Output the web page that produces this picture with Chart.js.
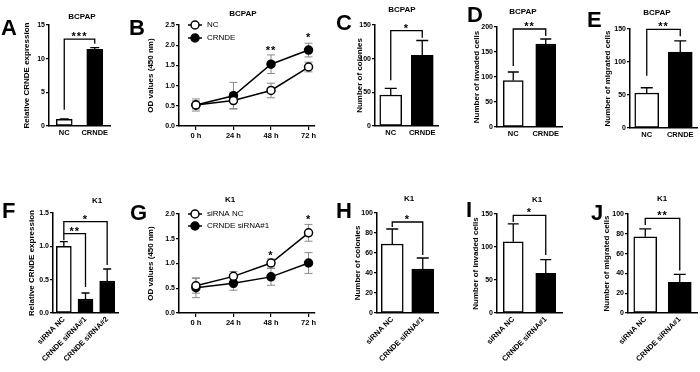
<!DOCTYPE html>
<html>
<head>
<meta charset="utf-8">
<script src="https://cdn.jsdelivr.net/npm/chart.js@4.4.1/dist/chart.umd.min.js"></script>
<style>
  body { margin: 0; background: #fff; }
  #fig { position: relative; width: 700px; height: 372px; overflow: hidden; }
  #fig canvas { position: absolute; }
</style>
</head>
<body>
<div id="fig"></div>
<script>
// ---------- data ----------
const bcpapGroups = ['NC', 'CRNDE'];
const k1Groups = ['siRNA NC', 'CRNDE siRNA#1'];
const k1ExprGroups = ['siRNA NC', 'CRNDE siRNA#1', 'CRNDE siRNA#2'];
const timeLabels = ['0 h', '24 h', '48 h', '72 h'];
const timeHours = [0, 24, 48, 72];

// A - relative CRNDE expression, BCPAP
const exprBcpap = [1.0, 11.4];
const exprBcpapErr = [0.05, 0.25];
// B - OD values, BCPAP
const odBcpapNC = [0.52, 0.63, 0.88, 1.46];
const odBcpapNCErr = [0.15, 0.2, 0.18, 0.12];
const odBcpapCRNDE = [0.52, 0.75, 1.53, 1.88];
const odBcpapCRNDEErr = [0.1, 0.33, 0.23, 0.17];
// C - colonies, BCPAP
const colBcpap = [46, 105];
const colBcpapErr = [10, 22];
// D - invaded cells, BCPAP
const invBcpap = [93, 166];
const invBcpapErr = [17, 10];
// E - migrated cells, BCPAP
const migBcpap = [53, 115];
const migBcpapErr = [8, 17];
// F - relative CRNDE expression, K1
const exprK1 = [1.0, 0.21, 0.48];
const exprK1Err = [0.07, 0.09, 0.18];
// G - OD values, K1
const odK1NC = [0.55, 0.74, 1.01, 1.62];
const odK1NCErr = [0.15, 0.1, 0.08, 0.17];
const odK1Si = [0.51, 0.60, 0.73, 1.01];
const odK1SiErr = [0.2, 0.14, 0.17, 0.21];
// H - colonies, K1
const colK1 = [69, 44];
const colK1Err = [15, 11];
// I - invaded cells, K1
const invK1 = [108, 60];
const invK1Err = [27, 21];
// J - migrated cells, K1
const migK1 = [77, 31];
const migK1Err = [8, 8];

// significance brackets (values in data units)
const sigA = [{ from: 0, to: 1, y: 12.9, left: 2.4, right: 12.2, text: '***' }];
const sigC = [{ from: 0, to: 1, y: 141.6, left: 68, right: 131, text: '*' }];
const sigD = [{ from: 0, to: 1, y: 196, left: 122, right: 182, text: '**' }];
const sigE = [{ from: 0, to: 1, y: 149.5, left: 79, right: 139, text: '**' }];
const sigF = [
  { from: 0, to: 1, y: 1.19, left: 1.09, right: 0.39, text: '**' },
  { from: 0, to: 2, y: 1.37, left: 1.19, right: 0.72, text: '*' }
];
const sigH = [{ from: 0, to: 1, y: 91, left: 86, right: 58, text: '*' }];
const sigI = [{ from: 0, to: 1, y: 148, left: 138, right: 88, text: '*' }];
const sigJ = [{ from: 0, to: 1, y: 95.5, left: 89, right: 43, text: '**' }];
const starsB = [{ x: 48, y: 1.93, text: '**' }, { x: 72, y: 2.25, text: '*' }];
const starsG = [{ x: 48, y: 1.21, text: '*' }, { x: 72, y: 1.94, text: '*' }];

// ---------- setup ----------
const FONT = "'Liberation Sans', Arial, sans-serif";
Chart.defaults.font.family = FONT;
Chart.defaults.color = '#000';
Chart.defaults.animation = false;

const fig = document.getElementById('fig');

function addCanvas(box) {
  const c = document.createElement('canvas');
  c.width = box.w;
  c.height = box.h;
  c.style.left = box.left + 'px';
  c.style.top = box.top + 'px';
  c.style.width = box.w + 'px';
  c.style.height = box.h + 'px';
  fig.appendChild(c);
  return c;
}

// error bars, brackets, stars, titles, legends
const figPlugin = {
  id: 'fig',
  beforeDatasetsDraw(chart, args, o) {
    if (o.kind !== 'line') return;
    const ctx = chart.ctx, xs = chart.scales.x, ys = chart.scales.y;
    ctx.save();
    ctx.strokeStyle = '#8a8a8a';
    ctx.lineWidth = 1;
    chart.data.datasets.forEach((ds, i) => {
      const err = o.errors[i];
      ds.data.forEach((p, j) => {
        const x = xs.getPixelForValue(p.x);
        const y1 = ys.getPixelForValue(p.y + err[j]);
        const y2 = ys.getPixelForValue(p.y - err[j]);
        ctx.beginPath();
        ctx.moveTo(x, y1); ctx.lineTo(x, y2);
        ctx.moveTo(x - 4, y1); ctx.lineTo(x + 4, y1);
        ctx.moveTo(x - 4, y2); ctx.lineTo(x + 4, y2);
        ctx.stroke();
      });
    });
    ctx.restore();
  },
  afterDatasetsDraw(chart, args, o) {
    const ctx = chart.ctx, xs = chart.scales.x, ys = chart.scales.y;
    const ox = o.box.left, oy = o.box.top;
    ctx.save();
    ctx.strokeStyle = '#000';
    ctx.fillStyle = '#000';
    ctx.textAlign = 'center';
    if ('letterSpacing' in ctx) ctx.letterSpacing = '1px';

    if (o.kind === 'bar') {
      const meta = chart.getDatasetMeta(0);
      const vals = chart.data.datasets[0].data;
      ctx.lineWidth = 1.3;
      meta.data.forEach((bar, j) => {
        const top = ys.getPixelForValue(vals[j] + o.errors[j]);
        ctx.beginPath();
        ctx.moveTo(bar.x, bar.y); ctx.lineTo(bar.x, top);
        ctx.moveTo(bar.x - o.cap / 2, top); ctx.lineTo(bar.x + o.cap / 2, top);
        ctx.stroke();
      });
      ctx.font = 'bold 11px ' + FONT;
      ctx.textBaseline = 'alphabetic';
      (o.brackets || []).forEach(b => {
        const xa = meta.data[b.from].x, xb = meta.data[b.to].x;
        const yy = ys.getPixelForValue(b.y);
        ctx.beginPath();
        ctx.moveTo(xa, ys.getPixelForValue(b.left));
        ctx.lineTo(xa, yy);
        ctx.lineTo(xb, yy);
        ctx.lineTo(xb, ys.getPixelForValue(b.right));
        ctx.stroke();
        ctx.fillText(b.text, (xa + xb) / 2, yy + 1);
      });
    } else {
      ctx.font = 'bold 11px ' + FONT;
      ctx.textBaseline = 'alphabetic';
      (o.stars || []).forEach(s => {
        ctx.fillText(s.text, xs.getPixelForValue(s.x), ys.getPixelForValue(s.y) + 6);
      });
      if ('letterSpacing' in ctx) ctx.letterSpacing = '0px';
      ctx.textAlign = 'left';
      ctx.textBaseline = 'middle';
      ctx.font = '8px ' + FONT;
      (o.legend || []).forEach(l => {
        const x = 195 - ox, y = l.y - oy;
        ctx.lineWidth = 1.5;
        ctx.beginPath(); ctx.moveTo(x - 7, y); ctx.lineTo(x + 7, y); ctx.stroke();
        ctx.beginPath(); ctx.arc(x, y, 4, 0, Math.PI * 2);
        ctx.fillStyle = l.filled ? '#000' : '#fff';
        ctx.fill(); ctx.stroke();
        ctx.fillStyle = '#000';
        ctx.fillText(l.text, x + 12, y);
      });
    }

    if ('letterSpacing' in ctx) ctx.letterSpacing = '0px';
    ctx.textAlign = 'center';
    ctx.textBaseline = 'middle';
    ctx.font = 'bold 8px ' + FONT;
    ctx.fillText(o.title.text, o.title.x - ox, o.title.y - oy);
    ctx.textAlign = 'left';
    ctx.textBaseline = 'alphabetic';
    ctx.font = 'bold 22px ' + FONT;
    ctx.fillText(o.letter.text, o.letter.x - ox, o.letter.y - oy);
    ctx.restore();
  }
};

function yAxis(p, decimals) {
  return {
    min: 0,
    max: p.yMax,
    afterFit: s => { s.width = p.area.l - p.box.left; },
    ticks: {
      stepSize: p.yStep,
      font: { size: 7, weight: 'bold' },
      padding: 1,
      callback: v => decimals ? v.toFixed(decimals) : v
    },
    grid: { display: true, drawOnChartArea: false, drawTicks: true, tickLength: 3, color: '#000', lineWidth: 1.2 },
    border: { display: true, color: '#000', width: 1.5 },
    title: {
      display: true,
      text: p.yTitle,
      font: { size: 8, weight: 'bold' },
      padding: { top: p.yTitleX - p.box.left - 4.8, bottom: 0 }
    }
  };
}

function barChart(p) {
  const canvas = addCanvas(p.box);
  return new Chart(canvas.getContext('2d'), {
    type: 'bar',
    data: {
      labels: p.labels,
      datasets: [{
        data: p.values,
        backgroundColor: p.labels.map((l, i) => i === 0 ? '#fff' : '#000'),
        borderColor: '#000',
        borderWidth: 1.5,
        borderSkipped: false,
        barThickness: p.barWidth
      }]
    },
    options: {
      responsive: false,
      events: [],
      layout: { padding: { top: p.area.t - p.box.top, right: p.box.left + p.box.w - p.area.r, left: 0, bottom: 0 } },
      plugins: {
        legend: { display: false },
        tooltip: { enabled: false },
        fig: {
          kind: 'bar', box: p.box, errors: p.errors, cap: p.cap, brackets: p.brackets,
          title: p.title, letter: p.letter
        }
      },
      scales: {
        x: {
          offset: true,
          afterFit: s => { s.height = p.box.top + p.box.h - p.area.b; },
          ticks: {
            font: { size: 7.5, weight: 'bold' },
            padding: 2,
            autoSkip: false,
            minRotation: p.rotate ? 45 : 0,
            maxRotation: p.rotate ? 45 : 0
          },
          grid: { display: true, drawOnChartArea: false, drawTicks: false },
          border: { display: true, color: '#000', width: 1.5 }
        },
        y: yAxis(p, p.decimals)
      }
    },
    plugins: [figPlugin]
  });
}

function lineChart(p) {
  const canvas = addCanvas(p.box);
  const toPoints = arr => arr.map((v, i) => ({ x: timeHours[i], y: v }));
  return new Chart(canvas.getContext('2d'), {
    type: 'line',
    data: {
      datasets: [
        {
          label: p.names[0],
          data: toPoints(p.series[0]),
          borderColor: '#000', borderWidth: 1.5,
          pointRadius: 4, pointBorderWidth: 1.5,
          pointBackgroundColor: '#fff', pointBorderColor: '#000'
        },
        {
          label: p.names[1],
          data: toPoints(p.series[1]),
          borderColor: '#000', borderWidth: 1.5,
          pointRadius: 4, pointBorderWidth: 1.5,
          pointBackgroundColor: '#000', pointBorderColor: '#000'
        }
      ]
    },
    options: {
      responsive: false,
      events: [],
      layout: { padding: { top: p.area.t - p.box.top, right: p.box.left + p.box.w - p.area.r, left: 0, bottom: 0 } },
      plugins: {
        legend: { display: false },
        tooltip: { enabled: false },
        fig: {
          kind: 'line', box: p.box, errors: p.errors, stars: p.stars,
          legend: [
            { text: p.names[0], filled: false, y: p.legendY[0] },
            { text: p.names[1], filled: true, y: p.legendY[1] }
          ],
          title: p.title, letter: p.letter
        }
      },
      scales: {
        x: {
          type: 'linear',
          min: -10.8,
          max: 75.8,
          afterBuildTicks: s => { s.ticks = timeHours.map(v => ({ value: v })); },
          afterFit: s => { s.height = p.box.top + p.box.h - p.area.b; },
          ticks: {
            font: { size: 7.5, weight: 'bold' },
            padding: 1,
            callback: v => timeLabels[timeHours.indexOf(v)]
          },
          grid: { display: true, drawOnChartArea: false, drawTicks: true, tickLength: 4, color: '#000', lineWidth: 1.2 },
          border: { display: true, color: '#000', width: 1.5 }
        },
        y: yAxis(p, 1)
      }
    },
    plugins: [figPlugin]
  });
}

// ---------- top row: BCPAP ----------
barChart({
  box: { left: 0, top: 0, w: 122, h: 186 }, area: { l: 49, t: 25, r: 110, b: 126 },
  labels: bcpapGroups, values: exprBcpap, errors: exprBcpapErr,
  yMax: 15, yStep: 5, yTitle: 'Relative CRNDE expression', yTitleX: 27,
  barWidth: 16, cap: 9, brackets: sigA,
  title: { text: 'BCPAP', x: 82, y: 17 }, letter: { text: 'A', x: 1, y: 35 }
});
lineChart({
  box: { left: 122, top: 0, w: 198, h: 186 }, area: { l: 179, t: 25, r: 315, b: 126 },
  names: ['NC', 'CRNDE'], series: [odBcpapNC, odBcpapCRNDE], errors: [odBcpapNCErr, odBcpapCRNDEErr],
  yMax: 2.5, yStep: 0.5, yTitle: 'OD values (450 nm)', yTitleX: 151,
  stars: starsB, legendY: [25, 38],
  title: { text: 'BCPAP', x: 243, y: 14 }, letter: { text: 'B', x: 129, y: 35 }
});
barChart({
  box: { left: 320, top: 0, w: 122, h: 186 }, area: { l: 375, t: 25, r: 438, b: 126 },
  labels: bcpapGroups, values: colBcpap, errors: colBcpapErr,
  yMax: 150, yStep: 50, yTitle: 'Number of colonies', yTitleX: 360,
  barWidth: 22, cap: 12, brackets: sigC,
  title: { text: 'BCPAP', x: 402, y: 10 }, letter: { text: 'C', x: 336, y: 30 }
});
barChart({
  box: { left: 442, top: 0, w: 123, h: 186 }, area: { l: 497, t: 27, r: 562, b: 127 },
  labels: bcpapGroups, values: invBcpap, errors: invBcpapErr,
  yMax: 200, yStep: 50, yTitle: 'Number of invaded cells', yTitleX: 477,
  barWidth: 20, cap: 11, brackets: sigD,
  title: { text: 'BCPAP', x: 523, y: 12 }, letter: { text: 'D', x: 467, y: 22 }
});
barChart({
  box: { left: 565, top: 0, w: 135, h: 186 }, area: { l: 630, t: 29, r: 697, b: 128 },
  labels: bcpapGroups, values: migBcpap, errors: migBcpapErr,
  yMax: 150, yStep: 50, yTitle: 'Number of migrated cells', yTitleX: 608,
  barWidth: 24, cap: 12, brackets: sigE,
  title: { text: 'BCPAP', x: 657, y: 13 }, letter: { text: 'E', x: 587, y: 27 }
});

// ---------- bottom row: K1 ----------
barChart({
  box: { left: 0, top: 186, w: 122, h: 186 }, area: { l: 53, t: 213, r: 118, b: 313 },
  labels: k1ExprGroups, values: exprK1, errors: exprK1Err,
  yMax: 1.5, yStep: 0.5, yTitle: 'Relative CRNDE expression', yTitleX: 32, decimals: 1,
  barWidth: 15, cap: 8, brackets: sigF, rotate: true,
  title: { text: 'K1', x: 97, y: 201 }, letter: { text: 'F', x: 2, y: 218 }
});
lineChart({
  box: { left: 122, top: 186, w: 198, h: 186 }, area: { l: 179, t: 214, r: 315, b: 313 },
  names: ['siRNA NC', 'CRNDE siRNA#1'], series: [odK1NC, odK1Si], errors: [odK1NCErr, odK1SiErr],
  yMax: 2.0, yStep: 0.5, yTitle: 'OD values (450 nm)', yTitleX: 151,
  stars: starsG, legendY: [214, 226],
  title: { text: 'K1', x: 230, y: 200 }, letter: { text: 'G', x: 130, y: 220 }
});
barChart({
  box: { left: 320, top: 186, w: 122, h: 186 }, area: { l: 377, t: 213, r: 438, b: 313 },
  labels: k1Groups, values: colK1, errors: colK1Err,
  yMax: 100, yStep: 20, yTitle: 'Number of colonies', yTitleX: 358,
  barWidth: 22, cap: 12, brackets: sigH, rotate: true,
  title: { text: 'K1', x: 409, y: 199 }, letter: { text: 'H', x: 336, y: 218 }
});
barChart({
  box: { left: 442, top: 186, w: 123, h: 186 }, area: { l: 497, t: 214, r: 562, b: 313 },
  labels: k1Groups, values: invK1, errors: invK1Err,
  yMax: 150, yStep: 50, yTitle: 'Number of invaded cells', yTitleX: 476,
  barWidth: 20, cap: 11, brackets: sigI, rotate: true,
  title: { text: 'K1', x: 537, y: 200 }, letter: { text: 'I', x: 466, y: 217 }
});
barChart({
  box: { left: 565, top: 186, w: 135, h: 186 }, area: { l: 628, t: 214, r: 697, b: 313 },
  labels: k1Groups, values: migK1, errors: migK1Err,
  yMax: 100, yStep: 20, yTitle: 'Number of migrated cells', yTitleX: 607,
  barWidth: 23, cap: 12, brackets: sigJ, rotate: true,
  title: { text: 'K1', x: 662, y: 199 }, letter: { text: 'J', x: 591, y: 220 }
});
</script>
</body>
</html>
